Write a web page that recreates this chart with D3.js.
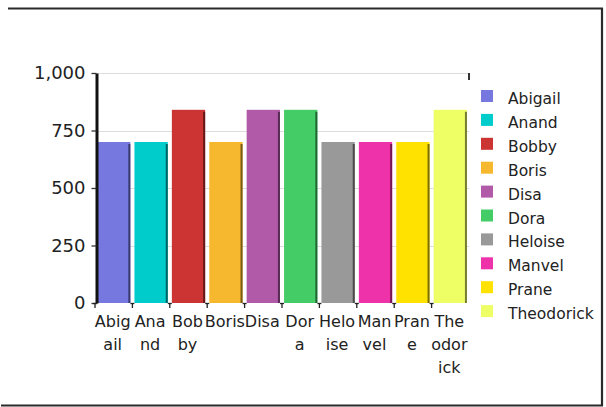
<!DOCTYPE html>
<html>
<head>
<meta charset="utf-8">
<script src="https://cdn.jsdelivr.net/npm/d3@7"></script>
<style>
  html, body { margin: 0; padding: 0; background: #fff; }
  svg { display: block; font-family: "DejaVu Sans", Verdana, sans-serif; }
</style>
</head>
<body>
<svg id="chart" width="606" height="407"></svg>
<script>
// Categories, values and colours of the bars
const names = ["Abigail", "Anand", "Bobby", "Boris", "Disa", "Dora", "Heloise", "Manvel", "Prane", "Theodorick"];
const values = [700, 700, 840, 700, 840, 840, 700, 700, 700, 840];
const colors = ["#7777e0", "#00cccc", "#cc3333", "#f5b82e", "#b05aa8", "#44cc66", "#999999", "#ee33aa", "#ffe200", "#eeff66"];
// Axis tick labels, each category label split into its wrapped lines
const yTicks = [0, 250, 500, 750, 1000];
const xTickLines = [["Abig", "ail"], ["Ana", "nd"], ["Bob", "by"], ["Boris"], ["Disa"], ["Dor", "a"], ["Helo", "ise"], ["Man", "vel"], ["Pran", "e"], ["The", "odor", "ick"]];

const svg = d3.select("#chart");
const plot = { left: 95, right: 469, top: 73, bottom: 303 };

const x = d3.scaleBand().domain(names).range([plot.left, plot.right]).paddingInner(0.11).paddingOuter(0.055);
const y = d3.scaleLinear().domain([0, 1000]).range([plot.bottom, plot.top]);

// Frame around the chart (top, right and bottom edges)
const frame = svg.append("g").attr("stroke", "#2a2a2a").attr("stroke-width", 2.2).attr("fill", "none");
frame.append("line").attr("x1", 8).attr("x2", 603).attr("y1", 8.5).attr("y2", 8.5);
frame.append("line").attr("x1", 602).attr("x2", 602).attr("y1", 8).attr("y2", 406);
frame.append("line").attr("x1", 1).attr("x2", 603).attr("y1", 405.5).attr("y2", 405.5);

// Horizontal gridlines
svg.append("g").selectAll("line").data(yTicks.filter(t => t > 0)).join("line")
  .attr("x1", plot.left + 2).attr("x2", plot.right)
  .attr("y1", d => Math.round(y(d)) + 0.5).attr("y2", d => Math.round(y(d)) + 0.5)
  .attr("stroke", "#dddddd").attr("stroke-width", 1.2);

// Small mark at the top-right end of the plot
svg.append("line").attr("x1", plot.right).attr("x2", plot.right)
  .attr("y1", y(1000)).attr("y2", y(1000) + 7)
  .attr("stroke", "#333").attr("stroke-width", 2);

// Bars with a darker strip along their right side
const bars = svg.append("g").selectAll("g").data(names).join("g");
bars.append("rect")
  .attr("x", d => x(d))
  .attr("y", (d, i) => y(values[i]))
  .attr("width", x.bandwidth())
  .attr("height", (d, i) => y(0) - y(values[i]))
  .attr("fill", (d, i) => colors[i]);
bars.append("rect")
  .attr("x", d => x(d) + x.bandwidth() - 2)
  .attr("y", (d, i) => y(values[i]) + 2)
  .attr("width", 2)
  .attr("height", (d, i) => y(0) - y(values[i]) - 2)
  .attr("fill", (d, i) => d3.color(colors[i]).darker(2));

// Y axis
const yAxis = svg.append("g")
  .attr("transform", `translate(${plot.left + 1.5},0)`)
  .call(d3.axisLeft(y).tickValues(yTicks).tickFormat(d3.format(",")).tickSize(5).tickSizeOuter(0).tickPadding(6));
yAxis.select(".domain").attr("stroke", "#111").attr("stroke-width", 3);
yAxis.selectAll(".tick line").attr("stroke", "#333").attr("stroke-width", 1.3);
yAxis.selectAll(".tick text").attr("font-size", 18).attr("fill", "#222")
  .attr("font-family", "DejaVu Sans, sans-serif");

// X axis: ticks at the boundaries between bars
const step = x.step();
const bounds = names.map(d => x(d) - step * x.paddingInner() / 2);
const xt = svg.append("g").attr("stroke", "#222").attr("stroke-width", 1.3);
xt.selectAll("line.v").data(bounds).join("line").attr("class", "v")
  .attr("x1", d => d).attr("x2", d => d).attr("y1", plot.bottom).attr("y2", plot.bottom + 5);
xt.selectAll("line.h").data(bounds).join("line").attr("class", "h")
  .attr("x1", d => d - 2).attr("x2", d => d + 2).attr("y1", plot.bottom + 0.5).attr("y2", plot.bottom + 0.5);

// Category labels, wrapped to the width of each band
const labels = svg.append("g").selectAll("text").data(names).join("text")
  .attr("x", d => x(d) + x.bandwidth() / 2 - 1)
  .attr("y", 327)
  .attr("text-anchor", "middle")
  .attr("font-size", 16)
  .attr("fill", "#222");
labels.selectAll("tspan").data((d, i) => xTickLines[i]).join("tspan")
  .attr("x", function () { return this.parentNode.getAttribute("x"); })
  .attr("dy", (d, j) => j === 0 ? 0 : 23)
  .text(d => d);

// Legend
const legend = svg.append("g").selectAll("g").data(names).join("g")
  .attr("transform", (d, i) => `translate(481,${90 + i * 23.9})`);
legend.append("rect").attr("width", 12).attr("height", 12).attr("fill", (d, i) => colors[i]);
legend.append("text").attr("x", 27).attr("y", 14).attr("font-size", 15.5).attr("fill", "#222").text(d => d);
</script>
</body>
</html>
